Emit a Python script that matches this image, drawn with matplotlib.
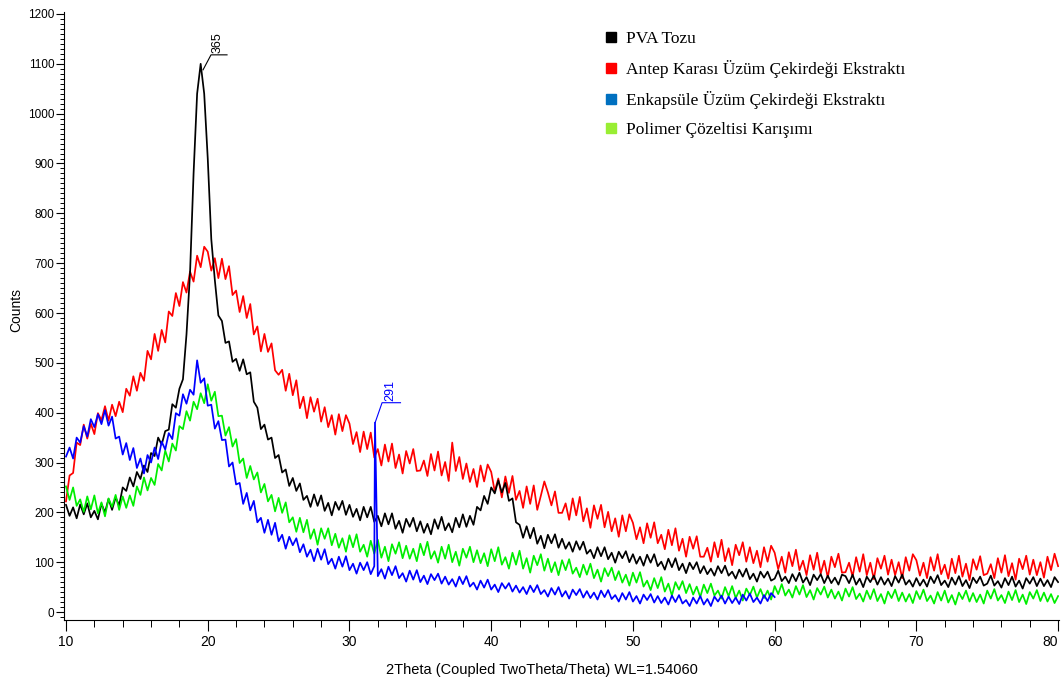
import numpy as np
import matplotlib
matplotlib.use("Agg")
import matplotlib.pyplot as plt
from matplotlib.ticker import MultipleLocator, FixedLocator
from matplotlib.lines import Line2D

# 2theta grid, 0.25 deg steps
two_theta = np.arange(0, 281) * 0.25 + 10.0
two_theta_blue = two_theta[:201]          # blue pattern stops at 60 deg

pva = [
    215, 193, 210, 188, 216, 196, 218, 190, 203, 186, 217, 200, 227, 205, 230, 214, 250, 243, 270, 252,
    281, 267, 294, 281, 319, 313, 350, 336, 363, 366, 417, 410, 448, 467, 557, 680, 880, 1040, 1100, 1040,
    910, 748, 666, 595, 584, 540, 543, 502, 508, 484, 507, 477, 481, 422, 410, 367, 376, 346, 350, 309,
    315, 280, 286, 253, 269, 243, 258, 225, 233, 211, 236, 213, 234, 203, 219, 194, 221, 205, 223, 195,
    215, 191, 207, 184, 211, 190, 211, 181, 193, 172, 198, 176, 198, 167, 183, 159, 187, 171, 189, 162,
    182, 159, 177, 156, 186, 167, 191, 164, 178, 160, 189, 170, 196, 171, 193, 175, 211, 204, 233, 217,
    250, 238, 264, 240, 259, 223, 228, 180, 175, 149, 172, 148, 169, 137, 153, 128, 155, 138, 156, 129,
    147, 127, 140, 121, 142, 125, 141, 117, 125, 108, 130, 112, 130, 106, 119, 99, 121, 108, 122, 100,
    116, 97, 111, 93, 115, 99, 116, 92, 101, 85, 107, 90, 108, 84, 97, 78, 99, 86, 100, 78,
    92, 76, 87, 73, 92, 78, 93, 73, 81, 67, 85, 71, 87, 66, 77, 61, 81, 69, 81, 63,
    67, 83, 62, 71, 58, 76, 62, 79, 59, 70, 54, 75, 64, 76, 58, 73, 58, 69, 55, 75,
    72, 58, 75, 55, 67, 50, 71, 60, 73, 55, 70, 55, 67, 52, 72, 59, 75, 55, 64, 51,
    68, 53, 65, 51, 71, 58, 74, 54, 63, 50, 69, 55, 72, 52, 64, 48, 69, 58, 71, 53,
    57, 73, 53, 62, 49, 68, 54, 71, 51, 63, 47, 68, 57, 70, 52, 67, 52, 64, 50, 70,
    60,
]

antep = [
    222, 274, 279, 340, 335, 376, 348, 378, 357, 399, 385, 413, 384, 416, 393, 422, 401, 448, 434, 473,
    444, 480, 464, 524, 507, 558, 524, 566, 541, 603, 594, 640, 614, 662, 641, 683, 663, 715, 692, 733,
    723, 685, 710, 670, 709, 668, 694, 636, 645, 602, 634, 590, 618, 557, 573, 523, 558, 522, 539, 485,
    476, 486, 444, 478, 435, 465, 409, 432, 389, 431, 402, 428, 382, 411, 371, 395, 356, 397, 363, 395,
    378, 337, 361, 321, 362, 327, 360, 310, 327, 294, 336, 302, 338, 289, 316, 278, 323, 298, 327, 283,
    284, 304, 273, 317, 284, 322, 274, 301, 263, 340, 283, 311, 267, 298, 261, 287, 251, 294, 262, 296,
    281, 242, 268, 230, 272, 239, 273, 225, 243, 209, 252, 217, 254, 205, 233, 262, 240, 214, 242, 199,
    199, 218, 185, 228, 194, 231, 182, 208, 169, 214, 187, 215, 170, 201, 162, 188, 151, 194, 162, 196,
    179, 146, 170, 138, 178, 149, 180, 138, 155, 126, 165, 134, 168, 123, 147, 111, 151, 127, 152, 111,
    111, 129, 101, 140, 110, 145, 102, 128, 94, 135, 114, 140, 101, 130, 98, 123, 90, 130, 101, 133,
    119, 86, 111, 79, 120, 92, 125, 84, 103, 74, 114, 85, 119, 77, 103, 69, 111, 90, 117, 79,
    80, 99, 71, 110, 81, 116, 74, 99, 66, 108, 87, 113, 75, 105, 74, 100, 68, 110, 83, 116,
    104, 73, 99, 68, 110, 83, 116, 76, 95, 67, 107, 78, 113, 71, 97, 64, 106, 85, 112, 74,
    77, 96, 68, 108, 79, 114, 72, 98, 65, 107, 86, 113, 75, 105, 74, 100, 69, 111, 84, 117,
    92,
]

enkapsule = [
    312, 330, 308, 350, 340, 373, 352, 387, 371, 397, 377, 405, 374, 392, 348, 352, 316, 339, 305, 329,
    289, 308, 278, 315, 300, 330, 307, 342, 326, 359, 347, 399, 394, 437, 418, 446, 436, 505, 460, 469,
    414, 416, 368, 383, 345, 346, 292, 300, 256, 259, 217, 239, 204, 223, 180, 189, 159, 185, 155, 179,
    142, 155, 127, 151, 134, 148, 120, 136, 111, 125, 102, 127, 105, 126, 96, 107, 87, 111, 91, 112,
    84, 97, 77, 99, 84, 100, 76, 92, 72, 86, 67, 91, 74, 92, 68, 78, 61, 83, 65, 84,
    60, 73, 56, 76, 64, 77, 57, 71, 55, 66, 51, 71, 56, 72, 51, 59, 45, 63, 49, 65,
    45, 55, 40, 58, 47, 58, 41, 53, 39, 50, 36, 53, 40, 54, 36, 44, 31, 48, 35, 50,
    31, 42, 27, 45, 34, 46, 29, 42, 28, 39, 25, 43, 30, 44, 26, 34, 21, 38, 25, 40,
    21, 32, 17, 35, 24, 36, 19, 32, 18, 29, 15, 33, 20, 34, 17, 24, 12, 29, 17, 32,
    15, 26, 12, 31, 21, 33, 17, 31, 18, 29, 16, 35, 23, 37, 20, 29, 17, 34, 22, 38,
    30,
]
# sharp reflection in the blue pattern
spike_x = 31.8
spike_y = 380

polimer = [
    252, 225, 250, 213, 226, 201, 232, 206, 234, 198, 220, 192, 228, 211, 235, 205, 232, 209, 234, 213,
    252, 235, 270, 244, 269, 255, 297, 284, 324, 302, 338, 324, 373, 367, 403, 384, 422, 407, 439, 419,
    457, 424, 442, 393, 394, 354, 371, 332, 347, 299, 308, 269, 293, 266, 280, 240, 257, 222, 235, 202,
    229, 199, 220, 180, 190, 161, 189, 160, 185, 147, 166, 135, 168, 147, 168, 134, 157, 129, 148, 121,
    154, 130, 156, 121, 135, 111, 143, 117, 145, 109, 131, 102, 136, 117, 140, 108, 133, 107, 127, 102,
    137, 114, 141, 107, 122, 99, 131, 107, 135, 100, 121, 93, 127, 109, 131, 100, 124, 98, 118, 92,
    126, 102, 130, 95, 110, 87, 119, 95, 123, 87, 108, 79, 113, 94, 116, 83, 107, 80, 100, 74,
    104, 84, 106, 77, 89, 70, 95, 75, 97, 68, 85, 61, 88, 72, 89, 64, 82, 59, 75, 53,
    79, 59, 80, 51, 63, 44, 68, 48, 70, 41, 57, 33, 60, 45, 62, 38, 56, 35, 51, 30,
    55, 38, 57, 33, 43, 27, 50, 32, 52, 28, 43, 23, 47, 34, 51, 29, 46, 28, 43, 25,
    52, 36, 56, 33, 45, 29, 52, 35, 54, 30, 44, 25, 48, 35, 51, 29, 45, 27, 41, 23,
    47, 31, 50, 26, 37, 21, 43, 26, 46, 22, 36, 17, 41, 28, 45, 22, 39, 21, 36, 18,
    42, 26, 45, 22, 33, 17, 40, 23, 43, 19, 34, 15, 39, 26, 43, 21, 38, 20, 35, 17,
    43, 27, 46, 23, 34, 18, 41, 24, 44, 20, 35, 16, 40, 27, 44, 22, 39, 21, 36, 18,
    32,
]

labels = ['PVA Tozu', 'Antep Karası Üzüm Çekirdeği Ekstraktı',
          'Enkapsüle Üzüm Çekirdeği Ekstraktı', 'Polimer Çözeltisi Karışımı']
legend_colors = ['#000000', '#ff0000', '#0070c0', '#99ee33']
peak_labels = ['365', '291']
x_ticks = [10, 20, 30, 40, 50, 60, 70, 80]

sans = ['Liberation Sans', 'DejaVu Sans']

# insert the spike into the blue pattern
i = np.searchsorted(two_theta_blue, spike_x)
bx = np.insert(two_theta_blue, i, spike_x)
by = np.insert(np.array(enkapsule, dtype=float), i, spike_y)

fig = plt.figure(figsize=(10.62, 6.85), dpi=100)
ax = fig.add_axes([0.0603, 0.0949, 0.9367, 0.8876])

lw = 1.25
ax.plot(two_theta, antep, color='#ff0000', lw=lw)
ax.plot(two_theta, pva, color='#000000', lw=lw)
ax.plot(two_theta, polimer, color='#00ee00', lw=lw)
ax.plot(bx, by, color='#0000ff', lw=lw)

# peak labels with leader lines
pk = int(np.argmax(pva))
px, py = two_theta[pk], pva[pk]
ax.plot([px + 0.17, px + 0.73, px + 1.86], [py - 12, py + 18, py + 18], color='black', lw=0.8)
ax.text(px + 1.2, py + 22, peak_labels[0], rotation=90, ha='center', va='bottom',
        fontsize=9, family=sans)
ax.plot([spike_x + 0.01, spike_x + 0.5, spike_x + 1.8], [spike_y, spike_y + 40, spike_y + 40],
        color='#0000ff', lw=0.8)
ax.text(spike_x + 1.07, spike_y + 44, peak_labels[1], rotation=90, ha='center', va='bottom',
        fontsize=9, color='#0000ff', family=sans)

ax.set_xlim(9.86, 80.05)
ax.set_ylim(-16, 1204)
ax.xaxis.set_major_locator(FixedLocator(x_ticks))
ax.xaxis.set_minor_locator(MultipleLocator(2))
ax.yaxis.set_major_locator(MultipleLocator(100))
ax.yaxis.set_minor_locator(MultipleLocator(10))
ax.spines['top'].set_visible(False)
ax.spines['right'].set_visible(False)
ax.tick_params(which='major', length=6, width=0.8, direction='out')
ax.tick_params(which='minor', length=3, width=0.7, direction='out')
ax.tick_params(axis='x', which='major', length=8, pad=3, labelsize=10)
ax.tick_params(axis='x', which='minor', length=5)
ax.tick_params(axis='y', pad=1, labelsize=8.5)

for t in ax.xaxis.get_major_ticks():
    t.label1.set_fontfamily(sans)
for t in ax.yaxis.get_major_ticks():
    t.label1.set_fontfamily(sans)
# last x label sits at the right edge of the figure
ax.xaxis.get_major_ticks()[len(x_ticks) - 1].label1.set_horizontalalignment('right')

fig.text(0.015, 0.548, 'Counts', rotation=90, ha='center', va='center',
         fontsize=10, family=sans)
fig.text(542 / 1062, 1 - 670 / 685, '2Theta (Coupled TwoTheta/Theta) WL=1.54060',
         ha='center', va='center', fontsize=10.5, family=sans)

handles = [Line2D([], [], ls='none', marker='s', markersize=7, color=c) for c in legend_colors]
leg = ax.legend(handles, labels, loc='upper left', bbox_to_anchor=(0.527, 0.995),
                frameon=False, handlelength=0.8, handletextpad=0.5, labelspacing=0.75,
                prop={'family': ['Liberation Serif', 'DejaVu Serif'], 'size': 12.5})

fig.savefig('out.png', dpi=100)
